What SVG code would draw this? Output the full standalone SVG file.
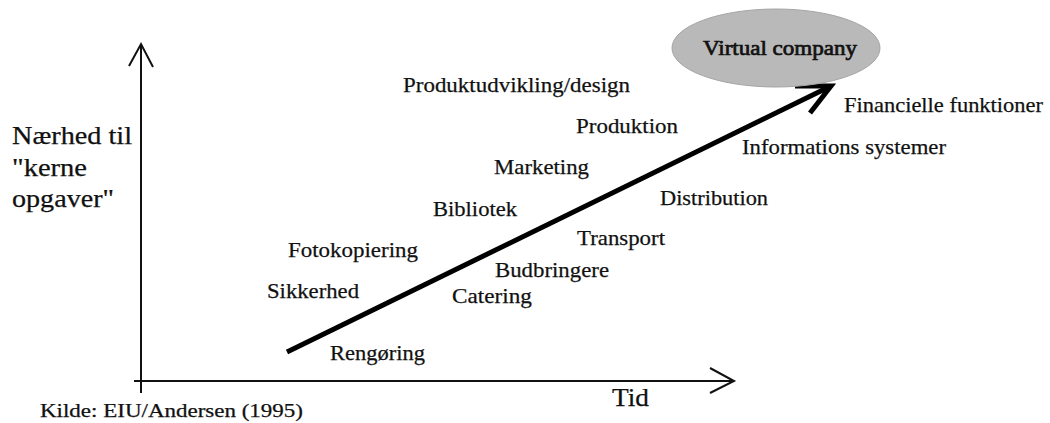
<svg xmlns="http://www.w3.org/2000/svg" width="1050" height="423" viewBox="0 0 1050 423">
<style>
.t{font-family:"Liberation Serif","Times New Roman",serif;font-size:22px;fill:#111;stroke:#111;stroke-width:0.25}
.ax{font-family:"Liberation Serif","Times New Roman",serif;font-size:25px;fill:#111;stroke:#111;stroke-width:0.25}
.axis{stroke:#111;stroke-width:2;fill:none}
.trend{stroke:#000;stroke-width:5;fill:none;stroke-linecap:butt}
</style>
<rect width="1050" height="423" fill="#fff"/>
<g id="connectors">
<path class="axis" d="M141,393 V44"/>
<path class="axis" d="M129,66 L141,44 L153,67"/>
<path class="axis" d="M134,381 H734"/>
<path class="axis" d="M710,368 L734,381 L710,393"/>
<path class="trend" d="M287,352 L831,86"/>
<path class="trend" d="M795,86 L831,86 L810,113" stroke-linejoin="miter"/>
</g>
<g id="virtual-company">
<ellipse cx="776" cy="48" rx="104" ry="39" fill="#b9b9b9" stroke="#a5a5a5" stroke-width="1"/>
<text class="t" x="703" y="55" textLength="154" lengthAdjust="spacingAndGlyphs" style="font-size:21px;stroke-width:0.7">Virtual company</text>
</g>
<g id="y-label">
<text class="ax" x="12" y="144" textLength="120" lengthAdjust="spacingAndGlyphs">Nærhed til</text>
<text class="ax" x="12" y="176" textLength="75" lengthAdjust="spacingAndGlyphs">"kerne</text>
<text class="ax" x="12" y="207" textLength="102" lengthAdjust="spacingAndGlyphs">opgaver"</text>
</g>
<g id="x-label"><text class="ax" x="612" y="406" textLength="37" lengthAdjust="spacingAndGlyphs" style="font-size:26px">Tid</text></g>
<g id="source"><text class="t" x="40" y="417" textLength="263" lengthAdjust="spacingAndGlyphs" style="font-size:19px">Kilde: EIU/Andersen (1995)</text></g>
<g id="produktudvikling"><text class="t" x="403" y="92" textLength="227" lengthAdjust="spacingAndGlyphs">Produktudvikling/design</text></g>
<g id="produktion"><text class="t" x="576" y="133" textLength="102" lengthAdjust="spacingAndGlyphs">Produktion</text></g>
<g id="marketing"><text class="t" x="494" y="174" textLength="95" lengthAdjust="spacingAndGlyphs">Marketing</text></g>
<g id="bibliotek"><text class="t" x="433" y="216" textLength="84" lengthAdjust="spacingAndGlyphs">Bibliotek</text></g>
<g id="fotokopiering"><text class="t" x="288" y="257" textLength="130" lengthAdjust="spacingAndGlyphs">Fotokopiering</text></g>
<g id="sikkerhed"><text class="t" x="267" y="298" textLength="92" lengthAdjust="spacingAndGlyphs">Sikkerhed</text></g>
<g id="transport"><text class="t" x="577" y="245" textLength="88" lengthAdjust="spacingAndGlyphs">Transport</text></g>
<g id="budbringere"><text class="t" x="495" y="277" textLength="114" lengthAdjust="spacingAndGlyphs">Budbringere</text></g>
<g id="catering"><text class="t" x="452" y="303" textLength="80" lengthAdjust="spacingAndGlyphs">Catering</text></g>
<g id="rengoering"><text class="t" x="330" y="360" textLength="95" lengthAdjust="spacingAndGlyphs">Rengøring</text></g>
<g id="distribution"><text class="t" x="660" y="205" textLength="108" lengthAdjust="spacingAndGlyphs">Distribution</text></g>
<g id="informationssystemer"><text class="t" x="742" y="154" textLength="204" lengthAdjust="spacingAndGlyphs">Informations systemer</text></g>
<g id="financielle"><text class="t" x="844" y="112" textLength="199" lengthAdjust="spacingAndGlyphs">Financielle funktioner</text></g>
</svg>
